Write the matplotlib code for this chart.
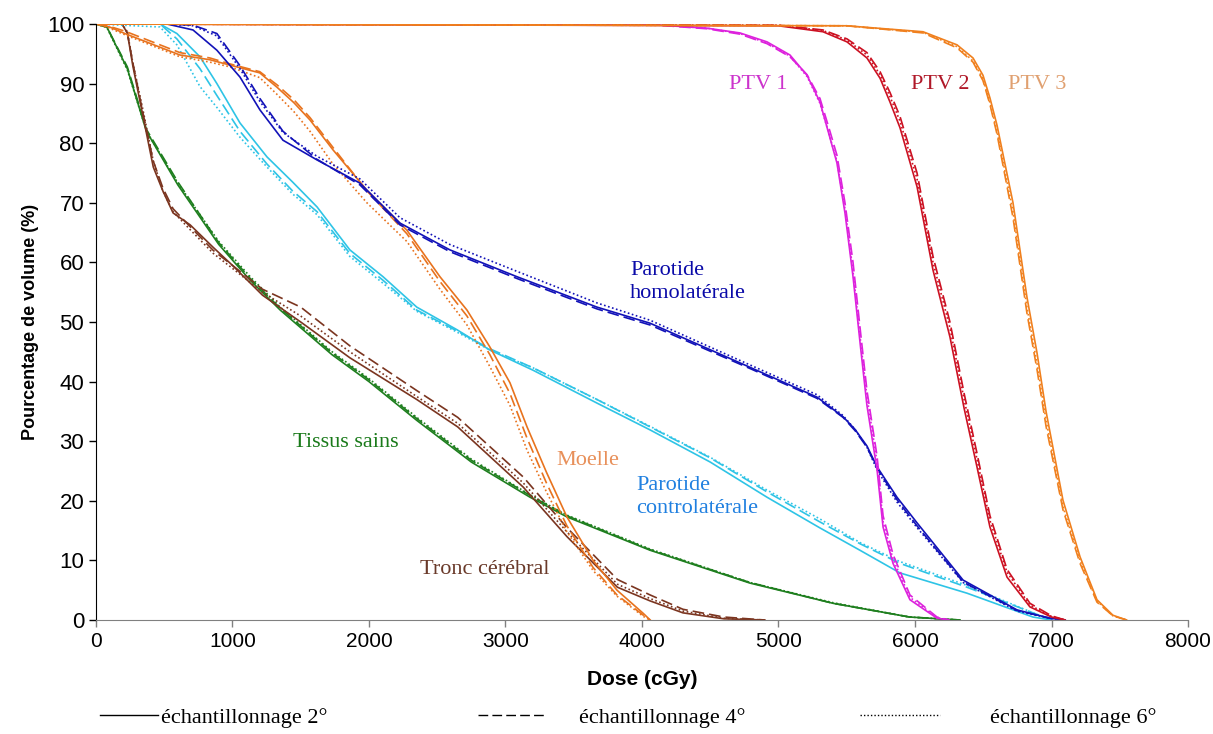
import matplotlib
matplotlib.use("Agg")
import matplotlib.pyplot as plt
from matplotlib.lines import Line2D

# ---------------- data (dose in cGy, volume in %) ----------------
tissus_dose = [0, 80, 230, 370, 600, 900, 1130, 1350, 1730, 2000, 2350, 2750, 3180, 3450, 4060, 4790, 5400, 5960, 6330]
tissus_2 = [100, 99.5, 92.5, 82, 73, 63, 57, 52, 44.5, 40, 33.5, 26.5, 20.6, 17.3, 11.7, 6.2, 2.8, 0.5, 0]
tissus_4 = [100, 99.5, 92.8, 82.3, 73.5, 63.3, 57.3, 52.3, 44.8, 40.3, 33.8, 26.8, 20.9, 17.5, 11.8, 6.3, 2.8, 0.5, 0]
tissus_6 = [100, 99.4, 92.3, 82, 73.3, 63.5, 57.6, 52.5, 45, 40.5, 34, 27, 21, 17.6, 11.9, 6.3, 2.9, 0.5, 0]

tronc_dose = [0, 190, 230, 270, 345, 420, 490, 565, 690, 860, 1000, 1220, 1500, 1860, 2350, 2650, 3130, 3450, 3820, 4060, 4300, 4600, 4900]
tronc_2 = [100, 100, 98.5, 93, 84.5, 76, 72, 68.3, 66.3, 62.5, 59.5, 54.5, 50, 44, 37, 32.4, 22.3, 14, 5.5, 3.2, 1.2, 0.2, 0]
tronc_4 = [100, 100, 98.5, 93.5, 85, 77, 72.5, 69, 66, 62, 59.5, 55.5, 52.5, 46, 38.5, 34, 24, 15.5, 6.8, 4.2, 1.8, 0.5, 0]
tronc_6 = [100, 100, 98.7, 93.5, 85.5, 77, 72, 68.5, 65.5, 61.5, 59, 55, 51, 45, 37.5, 33, 23, 14.8, 6, 3.6, 1.5, 0.3, 0]

moelle_dose = [0, 100, 212, 615, 835, 982, 1200, 1326, 1450, 1568, 1736, 1985, 2278, 2520, 2718, 2886, 3033, 3158, 3300, 3450, 3642, 3817, 4010, 4060]
moelle_2 = [100, 99.5, 98.4, 94.8, 94, 93.1, 91.8, 89.4, 86.8, 83.9, 78.9, 72.1, 65.4, 57.6, 52, 45.8, 39.8, 32.4, 24.8, 17.3, 10, 5, 1.1, 0]
moelle_4 = [100, 99.6, 98.8, 95.2, 94.3, 93.3, 92, 89.8, 87.3, 84.3, 79.3, 72, 64.8, 56.8, 51, 44.5, 38, 30.5, 23, 15.8, 8.8, 4.2, 0.8, 0]
moelle_6 = [100, 99.3, 98.2, 94.5, 93.6, 92.8, 91, 88.2, 85.3, 82, 76.5, 70, 63.5, 55.5, 49.5, 42.5, 36, 28.5, 21.5, 14.8, 8.3, 4, 0.6, 0]

paro_contra_dose = [0, 469, 593, 762, 886, 1055, 1253, 1440, 1620, 1860, 2103, 2350, 2645, 2886, 3203, 3670, 4059, 4500, 4916, 5300, 5597, 5890, 6381, 6864, 7000]
paro_contra_2 = [100, 100, 98.4, 94.5, 90, 83.4, 77.7, 73.5, 69.3, 62.1, 57.6, 52.5, 48.7, 45.3, 41.9, 36.4, 31.9, 26.5, 20.6, 15.5, 11.7, 7.9, 4.5, 0.5, 0]
paro_contra_4 = [100, 100, 97.5, 92.5, 88, 82, 76.5, 72, 68.5, 61.5, 57, 52, 48.5, 45.5, 42.3, 37, 32.4, 27.2, 21.5, 16.5, 12.8, 9.5, 5.5, 1.2, 0]
paro_contra_6 = [100, 99.5, 96.5, 89.5, 86, 81, 76, 71.5, 68, 61, 56.5, 51.8, 48.3, 45.3, 42.3, 37, 32.5, 27.3, 21.8, 17, 13, 9.8, 5.8, 1.2, 0]

paro_homo_dose = [0, 520, 711, 886, 1055, 1201, 1370, 1619, 1934, 2227, 2593, 3084, 3670, 4059, 4791, 5282, 5473, 5560, 5648, 5722, 5868, 6015, 6352, 6747, 6989, 7100]
paro_homo_2 = [100, 100, 99, 95.6, 91.1, 85.6, 80.5, 77.2, 73.3, 66.6, 62.1, 57.6, 52.5, 49.8, 42.4, 37.4, 34.1, 32, 29.2, 25.7, 20.6, 16.3, 6.7, 1.7, 0.3, 0]
paro_homo_4 = [100, 100, 99.8, 98.4, 93, 87.5, 82, 77.3, 73, 66.3, 61.8, 57.3, 52.2, 49.5, 42.2, 37.2, 34, 31.8, 29, 25.5, 20.2, 15.8, 6.4, 1.6, 0.3, 0]
paro_homo_6 = [100, 100, 99.7, 98, 92.5, 87, 81.8, 77.8, 74, 67.5, 63, 58.5, 53.2, 50.3, 42.8, 37.8, 34.3, 32, 29, 25.2, 19.8, 15.5, 6.3, 1.5, 0.3, 0]

ptv1_dose = [0, 4000, 4476, 4718, 4916, 5084, 5209, 5304, 5377, 5428, 5487, 5546, 5600, 5648, 5722, 5766, 5839, 5963, 6161, 6250]
ptv1_2 = [100, 100, 99.3, 98.5, 97, 94.8, 91.4, 86.9, 80.9, 76.7, 68.3, 57.6, 46, 36, 25.2, 15.6, 9.5, 3.4, 0.3, 0]
ptv1_4 = [100, 100, 99.2, 98.3, 96.7, 94.5, 91.5, 87.5, 82, 78, 70, 60, 48.5, 38.5, 27.5, 17.5, 11, 4.2, 0.5, 0]
ptv1_6 = [100, 100, 99.3, 98.4, 96.8, 94.6, 91.2, 86.7, 81, 77, 69, 58.5, 47, 37.5, 26.5, 16.5, 10.2, 3.8, 0.4, 0]

ptv2_dose = [0, 5000, 5326, 5502, 5648, 5744, 5817, 5890, 6015, 6132, 6256, 6360, 6454, 6549, 6674, 6842, 7000, 7100]
ptv2_2 = [100, 99.7, 98.7, 97, 94.3, 90.9, 86.9, 82.6, 72.7, 58.7, 47.5, 35.5, 25.7, 15.6, 7.2, 2.2, 0.5, 0]
ptv2_4 = [100, 99.8, 99, 97.5, 95.2, 92, 88.5, 84.5, 75, 61, 50, 38, 28, 17.5, 8.5, 2.8, 0.7, 0]
ptv2_6 = [100, 99.8, 98.9, 97.3, 94.8, 91.5, 87.8, 83.7, 74, 60, 49, 37, 27, 16.7, 8, 2.5, 0.6, 0]

ptv3_dose = [0, 5500, 6059, 6308, 6425, 6498, 6549, 6601, 6718, 6820, 6894, 6960, 7084, 7209, 7333, 7450, 7550]
ptv3_2 = [100, 99.7, 98.7, 96.5, 94.3, 91.4, 87.6, 83, 70, 54.2, 44.8, 35, 20.1, 10.6, 3.4, 0.8, 0]
ptv3_4 = [100, 99.7, 98.5, 96, 93.6, 90.5, 86.5, 81.5, 67.5, 51.5, 42, 32.5, 18.5, 9.5, 3, 0.7, 0]
ptv3_6 = [100, 99.7, 98.6, 96.2, 93.8, 90.8, 86.8, 82, 68.5, 52.5, 43, 33.5, 19, 10, 3.2, 0.7, 0]

x_ticks = [0, 1000, 2000, 3000, 4000, 5000, 6000, 7000, 8000]
y_ticks = [0, 10, 20, 30, 40, 50, 60, 70, 80, 90, 100]
legend_labels = ["échantillonnage 2°", "échantillonnage 4°", "échantillonnage 6°"]

# ---------------- figure ----------------
fig = plt.figure(figsize=(12.13, 7.34), dpi=100)
ax = fig.add_axes([0.0791, 0.1553, 0.9003, 0.812])

styles = [dict(linestyle="-"), dict(linestyle=(0, (7, 3))), dict(linestyle=(0, (1, 1.5)))]

structures = [
    (tissus_dose, [tissus_2, tissus_4, tissus_6], "#1f7f1f"),
    (tronc_dose, [tronc_2, tronc_4, tronc_6], "#7b3520"),
    (paro_contra_dose, [paro_contra_2, paro_contra_4, paro_contra_6], "#2ec4e6"),
    (moelle_dose, [moelle_2, moelle_4, moelle_6], "#e8731e"),
    (paro_homo_dose, [paro_homo_2, paro_homo_4, paro_homo_6], "#1212b8"),
    (ptv1_dose, [ptv1_2, ptv1_4, ptv1_6], "#dd22dd"),
    (ptv2_dose, [ptv2_2, ptv2_4, ptv2_6], "#cc1122"),
    (ptv3_dose, [ptv3_2, ptv3_4, ptv3_6], "#f0801e"),
]

for dose, series, color in structures:
    for vol, st in zip(series, styles):
        ax.plot(dose, vol, color=color, lw=1.2, **st)

ax.set_xlim(0, 8000)
ax.set_ylim(0, 100)
ax.set_xticks(x_ticks)
ax.set_yticks(y_ticks)
ax.tick_params(axis="both", direction="out", length=5, width=1)
ax.tick_params(axis="x", labelsize=15, colors="#808080", labelcolor="black")
ax.tick_params(axis="y", labelsize=16)
for lab in ax.get_xticklabels() + ax.get_yticklabels():
    lab.set_fontfamily("Liberation Sans")
ax.spines["top"].set_visible(False)
ax.spines["right"].set_visible(False)
ax.spines["left"].set_color("black")
ax.spines["bottom"].set_color("#808080")

ax.set_xlabel("Dose (cGy)", fontsize=15, fontweight="bold", family="Liberation Sans", labelpad=14)
ax.set_ylabel("Pourcentage de volume (%)", fontsize=13, fontweight="bold", family="Liberation Sans", labelpad=6)

serif = "Liberation Serif"
fs = 16
ax.text(4850, 89.8, "PTV 1", color="#cc33cc", fontsize=fs, family=serif, ha="center", va="center")
ax.text(6183, 89.8, "PTV 2", color="#b01828", fontsize=fs, family=serif, ha="center", va="center")
ax.text(6894, 89.8, "PTV 3", color="#e0a070", fontsize=fs, family=serif, ha="center", va="center")
ax.text(3912, 56.7, "Parotide\nhomolatérale", color="#0a0aa8", fontsize=fs, family=serif,
        ha="left", va="center", linespacing=1.25)
ax.text(3956, 20.6, "Parotide\ncontrolatérale", color="#2080e0", fontsize=fs, family=serif,
        ha="left", va="center", linespacing=1.25)
ax.text(3370, 26.8, "Moelle", color="#e8905a", fontsize=fs, family=serif, ha="left", va="center")
ax.text(1443, 29.7, "Tissus sains", color="#1a7a1a", fontsize=fs, family=serif, ha="left", va="center")
ax.text(2374, 8.4, "Tronc cérébral", color="#6a3a2a", fontsize=fs, family=serif, ha="left", va="center")

# legend: three separate entries placed along the bottom
leg_x = [100 / 1213, 478 / 1213, 860 / 1213]
leg_hlen = [2.6, 3.0, 3.6]
leg_pad = [0.15, 1.55, 2.25]
for i, (lab, st) in enumerate(zip(legend_labels, styles)):
    h = Line2D([], [], color="black", lw=1.0, **st)
    lg = fig.legend([h], [lab], loc="center left", bbox_to_anchor=(leg_x[i], 0.022),
                    frameon=False, handlelength=leg_hlen[i], handletextpad=leg_pad[i],
                    borderpad=0, borderaxespad=0, prop={"family": serif, "size": fs})

fig.savefig("out.png", dpi=100)
